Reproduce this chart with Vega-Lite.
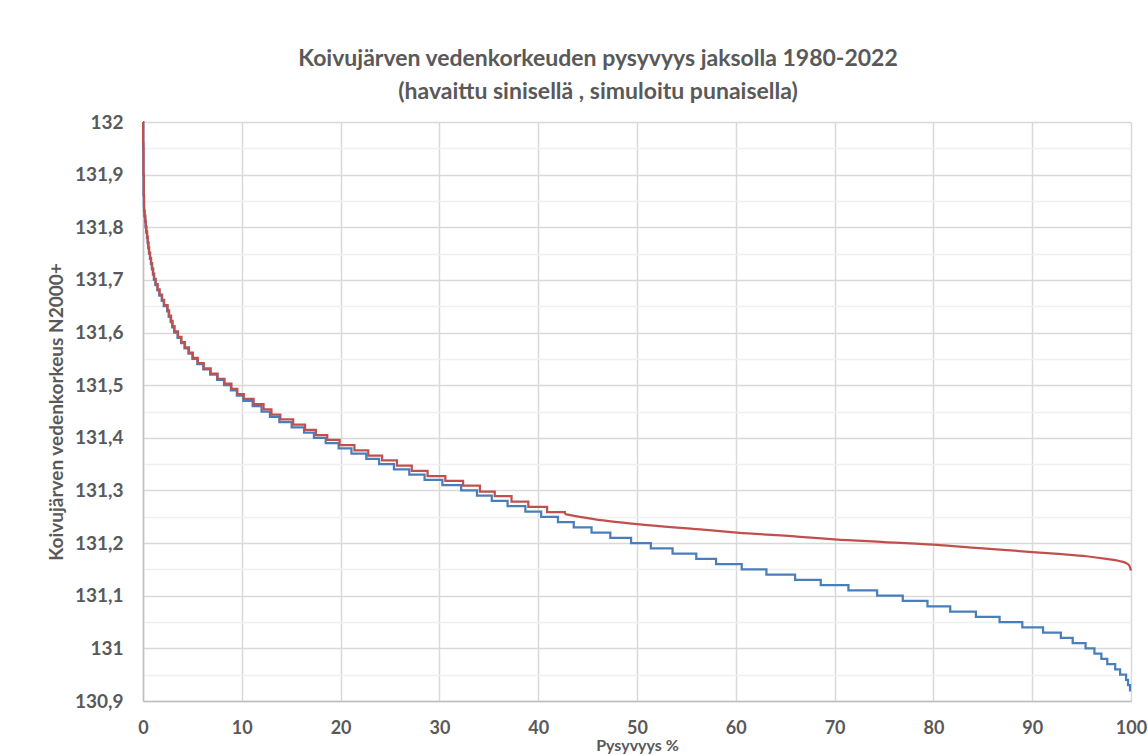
{
 "$schema": "https://vega.github.io/schema/vega-lite/v6.json",
 "width": 988,
 "height": 579,
 "autosize": {"type": "none"},
 "padding": {"left": 143, "top": 122, "right": 17, "bottom": 54},
 "background": "white",
 "config": {"view": {"stroke": null}, "font": "Lato"},
 "title": {
  "text": ["Koivujärven vedenkorkeuden pysyvyys jaksolla 1980-2022", "(havaittu sinisellä , simuloitu punaisella)"],
  "anchor": "middle",
  "frame": "group",
  "dx": -39,
  "offset": 9,
  "fontSize": 23,
  "fontWeight": "bold",
  "color": "#595959",
  "lineHeight": 33
 },
 "datasets": {
  "obs": [
   {"p": 0, "h": 132.0}, {"p": 0.02, "h": 131.95}, {"p": 0.04, "h": 131.9}, {"p": 0.06, "h": 131.86}, {"p": 0.08, "h": 131.84},
   {"p": 0.1, "h": 131.83}, {"p": 0.15, "h": 131.82}, {"p": 0.22, "h": 131.81}, {"p": 0.27, "h": 131.8}, {"p": 0.32, "h": 131.79},
   {"p": 0.4, "h": 131.78}, {"p": 0.47, "h": 131.77}, {"p": 0.53, "h": 131.76}, {"p": 0.6, "h": 131.75}, {"p": 0.7, "h": 131.74},
   {"p": 0.8, "h": 131.73}, {"p": 0.9, "h": 131.72}, {"p": 1.0, "h": 131.71}, {"p": 1.1, "h": 131.7}, {"p": 1.25, "h": 131.69},
   {"p": 1.45, "h": 131.68}, {"p": 1.65, "h": 131.67}, {"p": 1.9, "h": 131.66}, {"p": 2.1, "h": 131.65}, {"p": 2.45, "h": 131.64},
   {"p": 2.6, "h": 131.63}, {"p": 2.8, "h": 131.62}, {"p": 2.95, "h": 131.61}, {"p": 3.15, "h": 131.6}, {"p": 3.5, "h": 131.59},
   {"p": 3.85, "h": 131.58}, {"p": 4.2, "h": 131.57}, {"p": 4.6, "h": 131.56}, {"p": 5.0, "h": 131.55}, {"p": 5.5, "h": 131.54},
   {"p": 6.1, "h": 131.53}, {"p": 6.8, "h": 131.52}, {"p": 7.5, "h": 131.51}, {"p": 8.2, "h": 131.5}, {"p": 8.9, "h": 131.49},
   {"p": 9.5, "h": 131.48}, {"p": 10.15, "h": 131.47}, {"p": 11.1, "h": 131.46}, {"p": 12.0, "h": 131.45}, {"p": 12.85, "h": 131.44},
   {"p": 13.8, "h": 131.43}, {"p": 15.05, "h": 131.42}, {"p": 16.3, "h": 131.41}, {"p": 17.3, "h": 131.4}, {"p": 18.5, "h": 131.39},
   {"p": 19.8, "h": 131.38}, {"p": 21.1, "h": 131.37}, {"p": 22.6, "h": 131.36}, {"p": 23.9, "h": 131.35}, {"p": 25.4, "h": 131.34},
   {"p": 26.95, "h": 131.33}, {"p": 28.5, "h": 131.32}, {"p": 30.3, "h": 131.31}, {"p": 32.2, "h": 131.3}, {"p": 33.8, "h": 131.29},
   {"p": 35.3, "h": 131.28}, {"p": 36.9, "h": 131.27}, {"p": 38.7, "h": 131.26}, {"p": 40.3, "h": 131.25}, {"p": 42.0, "h": 131.24},
   {"p": 43.6, "h": 131.23}, {"p": 45.4, "h": 131.22}, {"p": 47.3, "h": 131.21}, {"p": 49.4, "h": 131.2}, {"p": 51.4, "h": 131.19},
   {"p": 53.6, "h": 131.18}, {"p": 56.0, "h": 131.17}, {"p": 58.0, "h": 131.16}, {"p": 60.6, "h": 131.15}, {"p": 63.1, "h": 131.14},
   {"p": 66.0, "h": 131.13}, {"p": 68.6, "h": 131.12}, {"p": 71.4, "h": 131.11}, {"p": 74.3, "h": 131.1}, {"p": 76.9, "h": 131.09},
   {"p": 79.4, "h": 131.08}, {"p": 81.7, "h": 131.07}, {"p": 84.3, "h": 131.06}, {"p": 86.7, "h": 131.05}, {"p": 89.0, "h": 131.04},
   {"p": 91.1, "h": 131.03}, {"p": 92.9, "h": 131.02}, {"p": 94.1, "h": 131.01}, {"p": 95.4, "h": 131.0}, {"p": 96.3, "h": 130.99},
   {"p": 97.0, "h": 130.98}, {"p": 97.6, "h": 130.97}, {"p": 98.4, "h": 130.96}, {"p": 98.9, "h": 130.95}, {"p": 99.5, "h": 130.94},
   {"p": 99.7, "h": 130.93}, {"p": 99.9, "h": 130.92}, {"p": 100, "h": 130.92}
  ],
  "simstep": [
   {"p": 0, "h": 132.0}, {"p": 0.02, "h": 131.96}, {"p": 0.05, "h": 131.9}, {"p": 0.08, "h": 131.86}, {"p": 0.11, "h": 131.832},
   {"p": 0.16, "h": 131.822}, {"p": 0.23, "h": 131.812}, {"p": 0.28, "h": 131.802}, {"p": 0.34, "h": 131.792}, {"p": 0.42, "h": 131.782},
   {"p": 0.49, "h": 131.772}, {"p": 0.55, "h": 131.762}, {"p": 0.62, "h": 131.752}, {"p": 0.72, "h": 131.742}, {"p": 0.82, "h": 131.732},
   {"p": 0.92, "h": 131.722}, {"p": 1.03, "h": 131.712}, {"p": 1.13, "h": 131.702}, {"p": 1.28, "h": 131.692}, {"p": 1.48, "h": 131.682},
   {"p": 1.68, "h": 131.672}, {"p": 1.93, "h": 131.662}, {"p": 2.14, "h": 131.652}, {"p": 2.49, "h": 131.642}, {"p": 2.64, "h": 131.632},
   {"p": 2.84, "h": 131.622}, {"p": 2.99, "h": 131.612}, {"p": 3.19, "h": 131.602}, {"p": 3.54, "h": 131.592}, {"p": 3.89, "h": 131.582},
   {"p": 4.25, "h": 131.572}, {"p": 4.65, "h": 131.562}, {"p": 5.05, "h": 131.552}, {"p": 5.55, "h": 131.542}, {"p": 6.15, "h": 131.532},
   {"p": 6.85, "h": 131.522}, {"p": 7.55, "h": 131.512}, {"p": 8.25, "h": 131.503}, {"p": 8.95, "h": 131.493}, {"p": 9.55, "h": 131.483},
   {"p": 10.2, "h": 131.474}, {"p": 11.2, "h": 131.464}, {"p": 12.2, "h": 131.454}, {"p": 13.0, "h": 131.444}, {"p": 13.9, "h": 131.435},
   {"p": 15.2, "h": 131.425}, {"p": 16.4, "h": 131.415}, {"p": 17.5, "h": 131.405}, {"p": 18.65, "h": 131.396}, {"p": 19.9, "h": 131.386},
   {"p": 21.4, "h": 131.376}, {"p": 22.8, "h": 131.366}, {"p": 24.2, "h": 131.357}, {"p": 25.7, "h": 131.347}, {"p": 27.2, "h": 131.337},
   {"p": 28.8, "h": 131.327}, {"p": 30.6, "h": 131.318}, {"p": 32.4, "h": 131.309}, {"p": 34.1, "h": 131.298}, {"p": 35.6, "h": 131.289},
   {"p": 37.3, "h": 131.279}, {"p": 39.0, "h": 131.269}, {"p": 40.9, "h": 131.259}, {"p": 42.7, "h": 131.255}
  ],
  "simsmooth": [
   {"p": 42.7, "h": 131.255}, {"p": 44.2, "h": 131.25}, {"p": 46.6, "h": 131.243}, {"p": 50.0, "h": 131.236}, {"p": 56.4, "h": 131.226},
   {"p": 60.1, "h": 131.22}, {"p": 66.5, "h": 131.212}, {"p": 70.0, "h": 131.207}, {"p": 75.0, "h": 131.202}, {"p": 80.0, "h": 131.197},
   {"p": 85.0, "h": 131.19}, {"p": 90.0, "h": 131.183}, {"p": 93.0, "h": 131.179}, {"p": 95.5, "h": 131.175}, {"p": 97.5, "h": 131.17},
   {"p": 98.8, "h": 131.166}, {"p": 99.5, "h": 131.162}, {"p": 99.8, "h": 131.158}, {"p": 100, "h": 131.148}
  ]
 },
 "layer": [
  {
   "data": {"name": "obs"},
   "mark": {"type": "line", "interpolate": "step-after", "color": "#4a7ebb", "strokeWidth": 2.25},
   "encoding": {
    "x": {
     "field": "p", "type": "quantitative",
     "scale": {"domain": [0, 100], "nice": false},
     "axis": {
      "values": [0, 10, 20, 30, 40, 50, 60, 70, 80, 90, 100],
      "title": "Pysyvyys %",
      "titleFontSize": 16, "titleFontWeight": "bold", "titleColor": "#595959", "titlePadding": 0,
      "labelFontSize": 18, "labelFontWeight": "bold", "labelColor": "#595959", "labelPadding": 18,
      "labelFlush": false, "labelOverlap": false,
      "ticks": false, "tickSize": 0,
      "grid": true, "gridColor": "#d9d9d9", "gridWidth": 1.5,
      "domain": true, "domainColor": "#bfbfbf", "domainWidth": 1.5
     }
    },
    "y": {
     "field": "h", "type": "quantitative",
     "scale": {"domain": [130.9, 132], "nice": false, "zero": false},
     "axis": {
      "values": [130.9, 131, 131.1, 131.2, 131.3, 131.4, 131.5, 131.6, 131.7, 131.8, 131.9, 132],
      "labelExpr": "replace(format(datum.value, '~g'), '.', ',')",
      "title": "Koivujärven vedenkorkeus N2000+",
      "titleFontSize": 19, "titleFontWeight": "bold", "titleColor": "#595959", "titlePadding": 8,
      "labelFontSize": 19, "labelFontWeight": "bold", "labelColor": "#595959", "labelPadding": 20,
      "labelFlush": false, "labelOverlap": false,
      "ticks": false, "tickSize": 0,
      "grid": true, "gridColor": "#d9d9d9", "gridWidth": 1.5,
      "domain": true, "domainColor": "#bfbfbf", "domainWidth": 1.5
     }
    }
   }
  },
  {
   "data": {"name": "simstep"},
   "mark": {"type": "line", "interpolate": "step-after", "color": "#c0504d", "strokeWidth": 2.25},
   "encoding": {
    "x": {"field": "p", "type": "quantitative"},
    "y": {
     "field": "h", "type": "quantitative",
     "axis": {
      "orient": "right",
      "values": [130.95, 131.05, 131.15, 131.25, 131.35, 131.45, 131.55, 131.65, 131.75, 131.85, 131.95],
      "labels": false, "ticks": false, "domain": false, "title": null,
      "grid": true, "gridColor": "#f0f0f0", "gridWidth": 1.5
     }
    }
   }
  },
  {
   "data": {"name": "simsmooth"},
   "mark": {"type": "line", "interpolate": "monotone", "color": "#c0504d", "strokeWidth": 2.25},
   "encoding": {
    "x": {"field": "p", "type": "quantitative"},
    "y": {"field": "h", "type": "quantitative", "axis": null}
   }
  }
 ],
 "resolve": {"axis": {"y": "independent"}}
}
